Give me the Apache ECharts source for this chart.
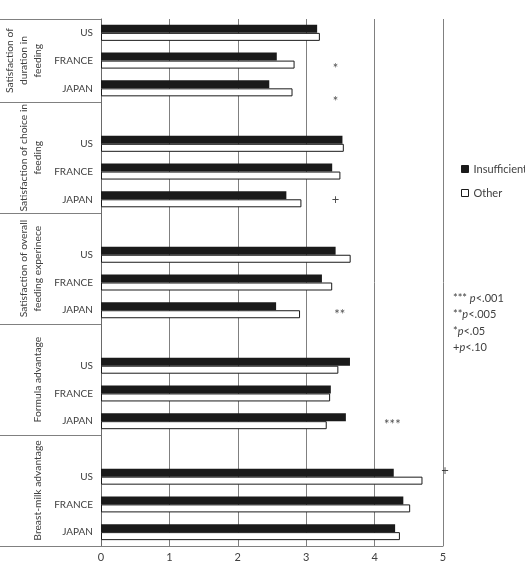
<!DOCTYPE html>
<html><head><meta charset="utf-8">
<script src="https://cdn.jsdelivr.net/npm/echarts@6/dist/echarts.min.js"></script>
<style>html,body{margin:0;padding:0;background:#fff}#c{width:525px;height:564px}</style>
</head><body><div id="c"></div>
<script>
// ---- data ----
const groups = ['Satisfaction of\nduration in\nfeeding', 'Satisfaction of choice in\nfeeding', 'Satisfaction of overall\nfeeding experinece', 'Formula advantage', 'Breast-milk advantage'];
const countries = ['US', 'FRANCE', 'JAPAN'];
const seriesNames = ['Insufficient', 'Other'];
const insufficient = [
  [3.16, 2.57, 2.46],
  [3.53, 3.38, 2.71],
  [3.43, 3.23, 2.56],
  [3.64, 3.36, 3.58],
  [4.28, 4.42, 4.30]
];
const other = [
  [3.20, 2.83, 2.80],
  [3.55, 3.50, 2.93],
  [3.65, 3.38, 2.91],
  [3.47, 3.35, 3.30],
  [4.70, 4.52, 4.37]
];
const xTicks = [0, 1, 2, 3, 4, 5];
const sigText = ['*', '*', '+', '**', '***', '+'];
const sigGroup = [0, 0, 1, 2, 3, 4];
const sigCountry = ['FRANCE', 'JAPAN', 'JAPAN', 'JAPAN', 'JAPAN', 'US'];
const sigX = [3.43, 3.43, 3.43, 3.49, 4.26, 5.0];
const notes = ['*** p<.001', '**p<.005', '*p<.05', '+p<.10'];

// ---- styling ----
const sigOffsets = [[0, 8], [0, 13], [0, 1], [0, 5], [0, 4], [2, -6]];
const FONT = 'Lato';
const TXT = '#404040';
const LINE = '#808080';

const catIds = [], catLabels = {}, insData = [], othData = [], groupSpans = [];
groups.forEach((g, gi) => {
  const start = catIds.length;
  if (gi > 0) { const id = 'g' + gi + '_blank'; catIds.push(id); catLabels[id] = ''; insData.push('-'); othData.push('-'); }
  countries.forEach((c, ci) => {
    const id = 'g' + gi + '_' + c;
    catIds.push(id); catLabels[id] = c;
    insData.push(insufficient[gi][ci]); othData.push(other[gi][ci]);
  });
  groupSpans.push([start, catIds.length - 1]);
});

const chart = echarts.init(document.getElementById('c'));
chart.setOption({
  animation: false,
  backgroundColor: '#fff',
  textStyle: { fontFamily: FONT },
  grid: { left: 101, right: 82, top: 19, bottom: 18, containLabel: false },
  legend: {
    data: seriesNames, orient: 'vertical', left: 456, top: 157,
    icon: 'rect', itemWidth: 7, itemHeight: 7, itemGap: 10,
    itemStyle: { borderWidth: 1 },
    textStyle: { fontFamily: FONT, fontSize: 11, color: TXT, lineHeight: 14 }
  },
  xAxis: {
    type: 'value', min: xTicks[0], max: xTicks[xTicks.length - 1], interval: 1,
    axisLine: { show: true, lineStyle: { color: LINE, width: 1 } },
    axisTick: { show: false },
    axisLabel: { fontFamily: FONT, fontSize: 11, color: TXT, margin: 6 },
    splitLine: { show: true, lineStyle: { color: LINE, width: 1 } }
  },
  yAxis: {
    type: 'category', inverse: true, data: catIds,
    axisLine: { show: true, lineStyle: { color: '#6a6a6a', width: 1 } },
    axisTick: { show: false },
    axisLabel: { fontFamily: FONT, fontSize: 10, color: TXT, margin: 8, formatter: v => catLabels[v] }
  },
  series: [
    { name: seriesNames[0], type: 'bar', data: insData, barWidth: 8, barGap: '0%',
      itemStyle: { color: '#1a1a1a', borderColor: '#1a1a1a', borderWidth: 0 } },
    { name: seriesNames[1], type: 'bar', data: othData, barWidth: 8, barGap: '0%',
      itemStyle: { color: '#ffffff', borderColor: '#1a1a1a', borderWidth: 1 } },
    { name: 'sig', type: 'scatter', silent: true, symbolSize: 1, z: 5, clip: false,
      itemStyle: { color: 'rgba(0,0,0,0)' },
      label: { show: true, position: 'inside', fontFamily: FONT, fontSize: 13, color: '#1a1a1a' },
      data: sigText.map((t, i) => ({
        value: [sigX[i], 'g' + sigGroup[i] + '_' + sigCountry[i]],
        label: { formatter: t, offset: sigOffsets[i] }
      }))
    }
  ]
});

// ---- label-area boxes, group titles and notes ----
const yOf = id => chart.convertToPixel({ yAxisIndex: 0 }, id);
const slot = yOf(catIds[1]) - yOf(catIds[0]);
const axisX = chart.convertToPixel({ xAxisIndex: 0 }, 0);
const graphics = [];
groupSpans.forEach(([s, e], gi) => {
  const top = yOf(catIds[s]) - slot / 2;
  const bot = yOf(catIds[e]) + slot / 2;
  graphics.push({ type: 'line', shape: { x1: 0, y1: Math.round(top) + 0.5, x2: axisX, y2: Math.round(top) + 0.5 }, style: { stroke: LINE, lineWidth: 1 }, silent: true });
  if (gi === groupSpans.length - 1) {
    graphics.push({ type: 'line', shape: { x1: 0, y1: Math.round(bot) + 0.5, x2: axisX, y2: Math.round(bot) + 0.5 }, style: { stroke: LINE, lineWidth: 1 }, silent: true });
  }
  graphics.push({
    type: 'text', x: 45, y: (top + bot) / 2, rotation: Math.PI / 2, silent: true,
    style: { text: groups[gi], fontFamily: FONT, fontSize: 10.3, lineHeight: 14, fill: TXT, align: 'center', verticalAlign: 'bottom' }
  });
});
const noteRich = notes.map(n => {
  const k = n.indexOf('p');
  return '{a|' + n.slice(0, k) + '}{i|p}{a|' + n.slice(k + 1) + '}';
}).join('\n');
graphics.push({
  type: 'text', x: 453, y: 290, silent: true,
  style: {
    text: noteRich, fill: TXT, fontFamily: FONT, fontSize: 11, lineHeight: 16.5,
    rich: {
      a: { fontFamily: FONT, fontSize: 11, fill: TXT, lineHeight: 16.5 },
      i: { fontFamily: FONT, fontSize: 11, fill: TXT, fontStyle: 'italic', lineHeight: 16.5 }
    }
  }
});
chart.setOption({ graphic: graphics });
</script>
</body></html>
